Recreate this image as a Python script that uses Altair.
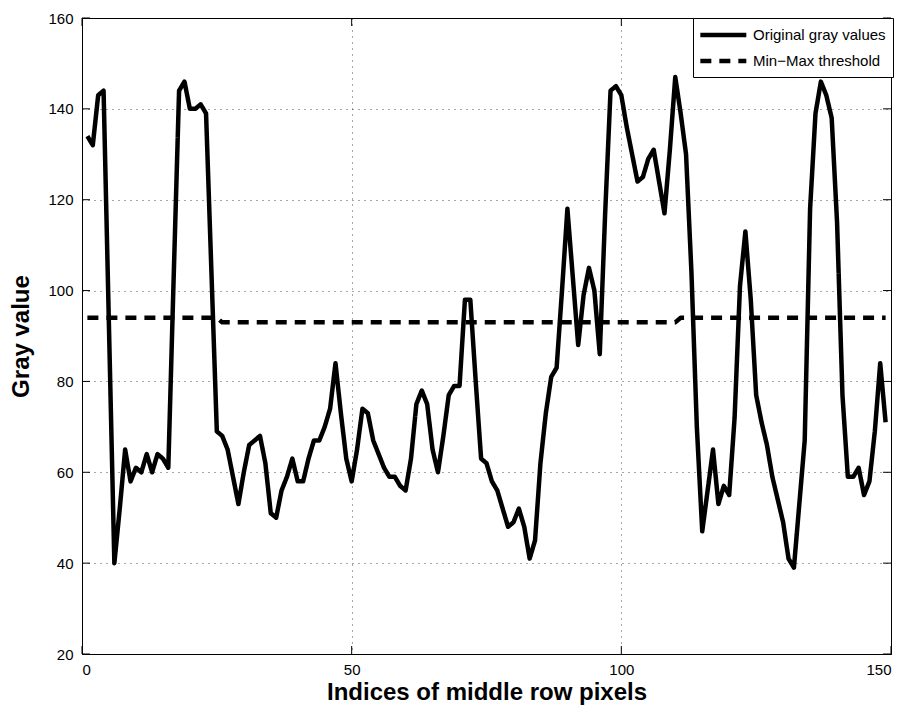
import altair as alt
import pandas as pd

# ---- data ----
idx = list(range(1, 150))
gray = [134, 132, 143, 144, 92, 40, 52, 65, 58, 61,
        60, 64, 60, 64, 63, 61, 103, 144, 146, 140,
        140, 141, 139, 104, 69, 68, 65, 59, 53, 60,
        66, 67, 68, 62, 51, 50, 56, 59, 63, 58,
        58, 63, 67, 67, 70, 74, 84, 73, 63, 58,
        65, 74, 73, 67, 64, 61, 59, 59, 57, 56,
        63, 75, 78, 75, 65, 60, 68, 77, 79, 79,
        98, 98, 80, 63, 62, 58, 56, 52, 48, 49,
        52, 48, 41, 45, 62, 73, 81, 83, 100, 118,
        103, 88, 99, 105, 100, 86, 117, 144, 145, 143,
        136, 130, 124, 125, 129, 131, 124, 117, 131, 147,
        139, 130, 104, 70, 47, 56, 65, 53, 57, 55,
        72, 101, 113, 98, 77, 71, 66, 59, 54, 49,
        41, 39, 53, 67, 118, 139, 146, 143, 138, 115,
        77, 59, 59, 61, 55, 58, 69, 84, 71]
threshold = [94] * 25 + [93] * 85 + [94] * 39

x_ticks = [0, 50, 100, 150]
y_ticks = [20, 40, 60, 80, 100, 120, 140, 160]
series_names = ["Original gray values", "Min\u2212Max threshold"]

W, H = 809, 636
TICK = 8
LW = 4.5

df = pd.concat([
    pd.DataFrame({"idx": idx, "value": gray, "series": series_names[0]}),
    pd.DataFrame({"idx": idx, "value": threshold, "series": series_names[1]}),
])
xt = pd.DataFrame({"t": x_ticks})
yt = pd.DataFrame({"t": y_ticks})

xscale = alt.Scale(domain=[0, 150], nice=False, zero=False)
yscale = alt.Scale(domain=[20, 160], nice=False, zero=False)

lines = alt.Chart(df).mark_line(color="black", strokeWidth=LW, strokeJoin="round").encode(
    x=alt.X("idx:Q", scale=xscale,
            axis=alt.Axis(values=x_ticks, title="Indices of middle row pixels",
                          labelPadding=8, titlePadding=3, ticks=False, tickSize=0,
                          grid=True, format="d")),
    y=alt.Y("value:Q", scale=yscale,
            axis=alt.Axis(values=y_ticks, title="Gray value",
                          labelPadding=9, titlePadding=14, ticks=False, tickSize=0,
                          grid=True, format="d")),
    strokeDash=alt.StrokeDash("series:N",
                              scale=alt.Scale(domain=series_names, range=[[1, 0], [11, 8]]),
                              legend=alt.Legend(title=None, orient="none", legendX=611, legendY=0,
                                                symbolType="M-1.26,0H4.74", symbolSize=235,
                                                symbolStrokeWidth=LW, symbolStrokeColor="black",
                                                symbolFillColor="transparent",
                                                labelFontSize=15, labelOffset=33,
                                                strokeColor="black", fillColor="white",
                                                padding=7, rowPadding=7)),
    detail="series:N",
)

tick_l = alt.Chart(yt).mark_rule(color="black", strokeWidth=1).encode(
    y=alt.Y("t:Q", scale=yscale), x=alt.value(0), x2=alt.value(TICK))
tick_r = alt.Chart(yt).mark_rule(color="black", strokeWidth=1).encode(
    y=alt.Y("t:Q", scale=yscale), x=alt.value(W - TICK), x2=alt.value(W))
tick_b = alt.Chart(xt).mark_rule(color="black", strokeWidth=1).encode(
    x=alt.X("t:Q", scale=xscale), y=alt.value(H - TICK), y2=alt.value(H))
tick_t = alt.Chart(xt).mark_rule(color="black", strokeWidth=1).encode(
    x=alt.X("t:Q", scale=xscale), y=alt.value(0), y2=alt.value(TICK))

chart = alt.layer(lines, tick_l, tick_r, tick_b, tick_t).properties(
    width=W, height=H,
    autosize=alt.AutoSizeParams(type="none"),
    padding={"left": 82, "top": 18, "right": 15, "bottom": 54},
).configure(
    font="Liberation Sans",
    background="white",
).configure_view(
    stroke="black", strokeWidth=1,
).configure_axis(
    labelFontSize=15, labelColor="black", labelFont="Liberation Sans",
    titleFontSize=24, titleFontWeight="bold", titleColor="black", titleFont="Liberation Sans",
    domainColor="black", domainWidth=1,
    gridColor="black", gridDash=[1, 5], gridOpacity=0.7, gridWidth=1,
).configure_legend(
    labelColor="black", labelFont="Liberation Sans",
)

chart.save("out.html", embed_options={"renderer": "svg", "actions": False})
